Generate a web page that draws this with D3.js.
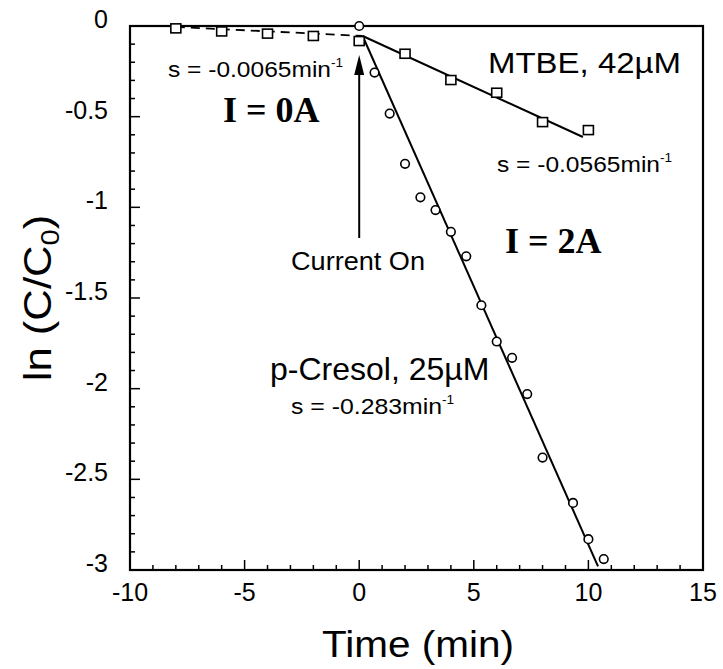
<!DOCTYPE html>
<html><head><meta charset="utf-8">
<script src="https://cdn.jsdelivr.net/npm/d3@7"></script>
<style>body{margin:0;background:#fff}svg{display:block}</style>
</head><body>
<script>
// ---- data ----
const mtbeTime = [-8, -6, -4, -2, 0, 2, 4, 6, 8, 10];
const mtbeVal  = [-0.013, -0.03, -0.042, -0.055, -0.083, -0.153, -0.298, -0.368, -0.53, -0.574];
const cresolTime = [0, 0.67, 1.33, 2, 2.67, 3.33, 4, 4.67, 5.33, 6, 6.67, 7.33, 8, 9.33, 10, 10.67];
const cresolVal  = [0, -0.257, -0.483, -0.76, -0.945, -1.015, -1.135, -1.27, -1.54, -1.74, -1.83, -2.03, -2.38, -2.63, -2.83, -2.94];
// fitted lines [t, y]
const fitOff    = [[-8, -0.005], [0.15, -0.055]];
const fitMtbe   = [[0.15, -0.055], [9.76, -0.612]];
const fitCresol = [[0.15, -0.055], [10.42, -2.98]];
const xTicks = [-10, -5, 0, 5, 10, 15];
const yTicks = [0, -0.5, -1, -1.5, -2, -2.5, -3];

const W = 723, H = 669;
const svg = d3.select("body").append("svg").attr("width", W).attr("height", H);
const x = d3.scaleLinear().domain([-10, 15]).range([130, 703]);
const y = d3.scaleLinear().domain([-3, 0]).range([570, 26]);
const sans = "'Liberation Sans', Arial, sans-serif";
const serif = "'Liberation Serif', 'Times New Roman', serif";

// minor/major ticks (inward)
const g = svg.append("g");
const xMinor = d3.range(-10, 16, 1);
const yMinor = d3.range(0, 31).map(i => -i / 10);
g.selectAll(".xm").data(xMinor).enter().append("line")
  .attr("x1", d => x(d)).attr("x2", d => x(d))
  .attr("y1", y(-3)).attr("y2", d => y(-3) - (d % 5 === 0 ? 10 : 5))
  .attr("stroke", "#000").attr("stroke-width", 1.5);
g.selectAll(".ym").data(yMinor).enter().append("line")
  .attr("y1", d => y(d)).attr("y2", d => y(d))
  .attr("x1", x(-10)).attr("x2", (d, i) => x(-10) + (i % 5 === 0 ? 10 : 5))
  .attr("stroke", "#000").attr("stroke-width", 1.5);

// frame
svg.append("rect").attr("x", x(-10)).attr("y", y(0))
  .attr("width", x(15) - x(-10)).attr("height", y(-3) - y(0))
  .attr("fill", "none").attr("stroke", "#000").attr("stroke-width", 2.2);

// tick labels
svg.selectAll(".xl").data(xTicks).enter().append("text")
  .attr("x", d => x(d)).attr("y", 601).attr("text-anchor", "middle")
  .attr("font-family", sans).attr("font-size", 25).text(d => d);
svg.selectAll(".yl").data(yTicks).enter().append("text")
  .attr("x", 108).attr("y", d => y(d) + 2).attr("text-anchor", "end")
  .attr("font-family", sans).attr("font-size", 25).text(d => d);

// axis titles
svg.append("text").attr("x", 322).attr("y", 657)
  .attr("font-family", sans).attr("font-size", 37)
  .attr("textLength", 192).attr("lengthAdjust", "spacingAndGlyphs").text("Time (min)");
const yt = svg.append("text").attr("transform", "translate(51,298) rotate(-90) scale(1.12,1)")
  .attr("text-anchor", "middle").attr("font-family", sans).attr("font-size", 39);
yt.append("tspan").text("ln (C/C");
yt.append("tspan").attr("font-size", 26).attr("dy", 8).text("0");
yt.append("tspan").attr("dy", -8).text(")");

// fit lines
const line = d3.line().x(d => x(d[0])).y(d => y(d[1]));
svg.append("path").attr("d", line(fitOff)).attr("fill", "none").attr("stroke", "#000")
  .attr("stroke-width", 1.8).attr("stroke-dasharray", "9,6");
svg.append("path").attr("d", line(fitMtbe)).attr("fill", "none").attr("stroke", "#000").attr("stroke-width", 2);
svg.append("path").attr("d", line(fitCresol)).attr("fill", "none").attr("stroke", "#000").attr("stroke-width", 2);

// markers
svg.selectAll(".sq").data(mtbeTime).enter().append("rect")
  .attr("x", d => x(d) - 5).attr("y", (d, i) => y(mtbeVal[i]) - 4.5)
  .attr("width", 10).attr("height", 9)
  .attr("fill", "#fff").attr("stroke", "#000").attr("stroke-width", 1.6);
svg.selectAll(".ci").data(cresolTime).enter().append("circle")
  .attr("cx", d => x(d)).attr("cy", (d, i) => y(cresolVal[i])).attr("r", 4.3)
  .attr("fill", "#fff").attr("stroke", "#000").attr("stroke-width", 1.6);

// arrow "Current On"
svg.append("line").attr("x1", x(0)).attr("x2", x(0)).attr("y1", 238).attr("y2", 72)
  .attr("stroke", "#000").attr("stroke-width", 2);
svg.append("path").attr("d", `M${x(0)},55 L${x(0) - 5},75 L${x(0) + 5},75 Z`).attr("fill", "#000");

function sText(xp, yp, main, size, len) {
  const t = svg.append("text").attr("x", xp).attr("y", yp).attr("font-family", sans).attr("font-size", size);
  t.append("tspan").attr("textLength", len).attr("lengthAdjust", "spacingAndGlyphs").text(main);
  t.append("tspan").attr("font-size", size * 0.62).attr("dy", -size * 0.45).text("-1");
  return t;
}
sText(168, 77, "s = -0.0065min", 22, 163);
sText(497, 172, "s = -0.0565min", 22, 163);
sText(291, 414, "s = -0.283min", 22, 151);

svg.append("text").attr("x", 488).attr("y", 73).attr("font-family", sans).attr("font-size", 30)
  .attr("textLength", 193).attr("lengthAdjust", "spacingAndGlyphs").text("MTBE, 42µM");
svg.append("text").attr("x", 270).attr("y", 380).attr("font-family", sans).attr("font-size", 32).text("p-Cresol, 25µM");
svg.append("text").attr("x", 291).attr("y", 270).attr("font-family", sans).attr("font-size", 25)
  .attr("textLength", 134).attr("lengthAdjust", "spacingAndGlyphs").text("Current On");
svg.append("text").attr("x", 223).attr("y", 122).attr("font-family", serif).attr("font-weight", "bold").attr("font-size", 36).text("I = 0A");
svg.append("text").attr("x", 505).attr("y", 253).attr("font-family", serif).attr("font-weight", "bold").attr("font-size", 36).text("I = 2A");
</script>
</body></html>
